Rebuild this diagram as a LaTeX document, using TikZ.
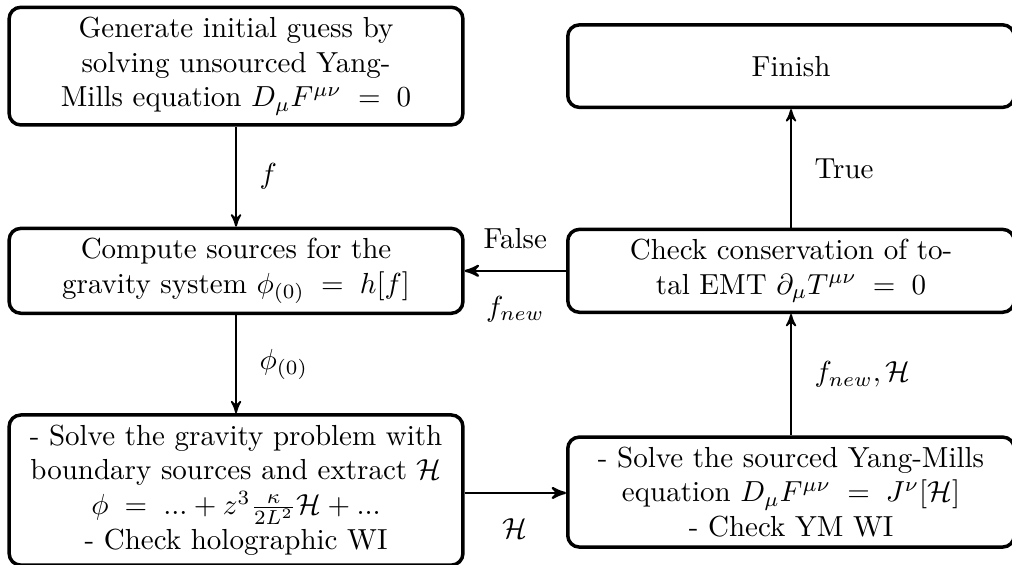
\documentclass[tikz,border=0pt]{standalone}
\usepackage{amsmath}
\usepackage{tikz}
\usetikzlibrary{arrows,calc}

\begin{document}
\begin{tikzpicture}[x=1pt,y=1pt,>=stealth',
  every node/.style = {align=center},
  box/.style = {shape=rectangle, rounded corners, draw, very thick,
    minimum height=1cm},
  lbox/.style = {box, minimum width=156.5pt},
  rbox/.style = {box, minimum width=154pt},
  flow/.style = {->, semithick},
  back/.style = {->, thick}]
  \useasboundingbox (0,0) rectangle (349,-194.8);
  % left column
  \node[lbox] (guess) at (81.4,-22.8) {Generate initial guess by\\
    solving unsourced Yang-\\
    Mills equation $D_\mu F^{\mu\nu}\;=\;0$};
  \node[lbox] (sources) at (81.4,-93.4) {Compute sources for the\\
    gravity system $\phi_{(0)}\;=\;h[f]$};
  \node[lbox] (gravity) at (81.4,-169.0) {- Solve the gravity problem with\\
    boundary sources and extract $\mathcal{H}$\\
    $\phi\;=\;...+z^3\frac{\kappa}{2L^2}\mathcal{H}+...$\\
    - Check holographic WI};
  % right column
  \node[rbox] (finish) at (272.8,-22.8) {Finish};
  \node[rbox] (check) at (272.8,-93.4) {Check conservation of to-\\
    tal EMT $\partial_\mu T^{\mu\nu}\;=\;0$};
  \node[rbox] (ym) at (272.8,-169.7) {- Solve the sourced Yang-Mills\\
    equation $D_\mu F^{\mu\nu}\;=\;J^\nu[\mathcal{H}]$\\
    - Check YM WI};
  % connectors
  \draw[flow] (guess) -- node[right=4.5pt] {$f$} (sources);
  \draw[flow] (sources) -- node[right=4.5pt] {$\phi_{(0)}$} (gravity);
  \draw[back] (gravity.east |- 0,-170) -- node[below=5pt] {$\mathcal{H}$} (ym.west |- 0,-170);
  \draw[flow] (ym) -- node[right=4.5pt] {$f_{new},\mathcal{H}$} (check);
  \draw[flow] (check) -- node[right=4.5pt] {True} (finish);
  \draw[back] (check) -- node[above=4pt] {False}
    node[below=5pt] {$f_{new}$} (sources);
\end{tikzpicture}
\end{document}
